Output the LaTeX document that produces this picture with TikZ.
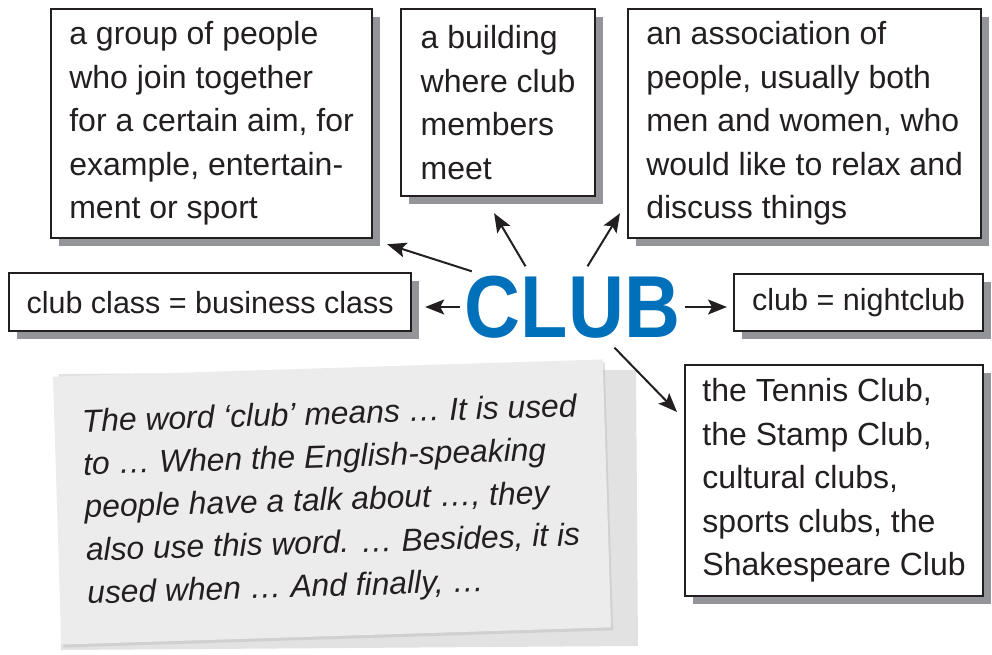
\documentclass[tikz,border=0pt]{standalone}
\usepackage{fontspec}
\setmainfont{Liberation Sans}
\usepackage{xcolor}
\usetikzlibrary{arrows.meta,shadows}
\definecolor{clubblue}{HTML}{0070BA}
\definecolor{shadowgray}{HTML}{939598}
\definecolor{ink}{HTML}{231F20}
\definecolor{cardgray}{HTML}{ECECEC}
\definecolor{sheetgray}{HTML}{E2E2E2}

\begin{document}
\begin{tikzpicture}[x=1pt, y=-1pt,
  meaning/.style={draw=ink, line width=2.2pt, fill=white, anchor=north west,
    align=left, inner sep=0pt, text=ink, font=\fontsize{32}{43.5}\selectfont,
    drop shadow={shadow xshift=8pt, shadow yshift=-8pt, fill=shadowgray, opacity=1}},
  link/.style={draw=ink, line width=2pt, -{Stealth[length=19pt, width=15pt, inset=4pt]}}]
  \useasboundingbox (0,0) rectangle (992,655);

  % note card, two sheets
  \fill[sheetgray, rotate around={0.4:(348,510)}] (60,372) rectangle (637,648);
  \node[rotate=1.8, fill=cardgray, minimum width=550pt, minimum height=268pt,
    align=left, inner sep=0pt, text=ink, font=\fontsize{31.8}{43}\selectfont\itshape,
    drop shadow={shadow xshift=2pt, shadow yshift=-3pt, fill=black!25, opacity=.5}]
    (note) at (332,502) {The word ‘club’ means … It is used\\to … When the English-speaking\\people have a talk about …, they\\also use this word. … Besides, it is\\used when … And finally, …};

  \node[font=\fontsize{88}{88}\selectfont\bfseries, text=clubblue,
    minimum width=225pt, minimum height=81pt, inner sep=0pt]
    (club) at (572.5,307) {\scalebox{0.88}[1]{CLUB}};

  \node[meaning, minimum width=321pt, minimum height=229pt] (people) at (50,8)
    {a group of people\\who join together\\for a certain aim, for\\example, entertain-\\ment or sport};
  \node[meaning, minimum width=194pt, minimum height=187pt] (building) at (400,8)
    {a building\\where club\\members\\meet};
  \node[meaning, minimum width=353pt, minimum height=229pt] (society) at (627,8)
    {an association of\\people, usually both\\men and women, who\\would like to relax and\\discuss things};
  \node[meaning, minimum width=402pt, minimum height=58pt, font=\fontsize{30.5}{36}\selectfont] (flight) at (8,272)
    {club class = business class};
  \node[meaning, minimum width=249pt, minimum height=57pt, font=\fontsize{30.5}{36}\selectfont] (night) at (733,273)
    {club = nightclub};
  \node[meaning, minimum width=298pt, minimum height=231pt] (names) at (684,364)
    {the Tennis Club,\\the Stamp Club,\\cultural clubs,\\sports clubs, the\\Shakespeare Club};

  \draw[link] ([xshift=12pt,yshift=-5pt]club.north west) -- ([xshift=14pt,yshift=-5pt]people.south east);
  \draw[link] ([xshift=-47pt]club.north) -- ([xshift=-4pt,yshift=-16pt]building.south);
  \draw[link] ([xshift=15pt]club.north) -- ([xshift=-7pt,yshift=26pt]society.south west);
  \draw[link, shorten >=13pt] (club.west) -- (club.west -| flight.east);
  \draw[link, shorten >=6pt] (club.east) -- (club.east -| night.west);
  \draw[link] ([xshift=42pt]club.south) -- ([xshift=-7pt,yshift=-48pt]names.north west);
\end{tikzpicture}
\end{document}
